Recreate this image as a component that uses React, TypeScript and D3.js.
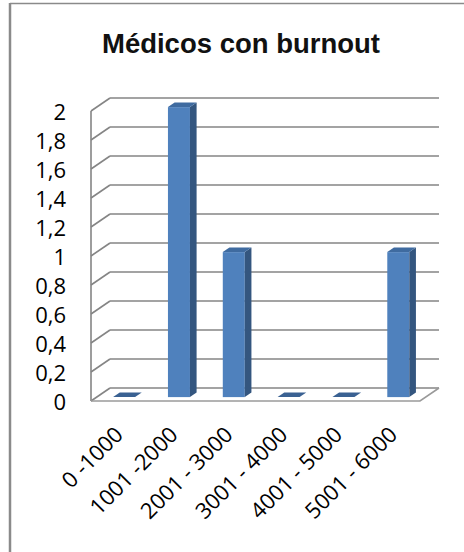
import React from 'react';
import * as d3 from 'd3';

const categories = ['0 -1000', '1001 -2000', '2001 - 3000', '3001 - 4000', '4001 - 5000', '5001 - 6000'];
const values = [0, 2, 1, 0, 0, 1];
const yTicks = [0, 0.2, 0.4, 0.6, 0.8, 1, 1.2, 1.4, 1.6, 1.8, 2];

const W = 464;
const H = 552;
// 3d depth offset of the chart box
const DX = 19;
const DY = -13;

const App = () => {
  const x = d3.scaleBand().domain(categories).range([91, 420]);
  const y = d3.scaleLinear().domain([0, 2]).range([401, 111]);
  const fmt = (v: number) => String(+v.toFixed(1)).replace('.', ',');

  const grid = '#858585';
  const f = 0.3; // bar front depth
  const d = 0.35; // bar thickness (depth)
  const bw = 22;
  const ddx = DX * d;
  const ddy = DY * d;

  const pts = (p: number[][]) => p.map((q) => q.join(',')).join(' ');

  return (
    <svg width={W} height={H} style={{ position: 'absolute', left: 0, top: 0, background: '#fff' }}>
      {/* frame */}
      <line x1={10} y1={3.5} x2={W} y2={3.5} stroke="#8a8a8a" strokeWidth={1.5} />
      <line x1={10} y1={3} x2={10} y2={H} stroke="#8a8a8a" strokeWidth={2.5} />

      <text x={241} y={53} textAnchor="middle" fontFamily="'Liberation Sans', Arial, sans-serif"
        fontWeight="bold" fontSize={27.5} fill="#111">Médicos con burnout</text>

      {/* walls */}
      {yTicks.map((t) => (
        <g key={t} stroke={grid} strokeWidth={1.6} fill="none">
          <line x1={91 + DX} y1={y(t) + DY} x2={420 + DX} y2={y(t) + DY} />
          <line x1={91} y1={y(t)} x2={91 + DX} y2={y(t) + DY} />
        </g>
      ))}
      <line x1={91} y1={y(0)} x2={91} y2={y(2)} stroke={grid} strokeWidth={1.6} />
      {/* floor */}
      <polyline points={pts([[91, y(0)], [420, y(0)], [420 + DX, y(0) + DY]])}
        fill="none" stroke="#9a9a9a" strokeWidth={1.6} />

      {/* bars */}
      {categories.map((c, i) => {
        const x0 = (x(c) as number) + (x.bandwidth() - bw) / 2 + DX * f;
        const x1 = x0 + bw;
        const yb = y(0) + DY * f;
        const yt = y(values[i]) + DY * f;
        const top = pts([[x0, yt], [x1, yt], [x1 + ddx, yt + ddy], [x0 + ddx, yt + ddy]]);
        if (values[i] === 0) {
          return <polygon key={c} points={top} fill="#3a6192" />;
        }
        return (
          <g key={c}>
            <rect x={x0} y={yt} width={bw} height={yb - yt} fill="#4f81bd" />
            <polygon points={pts([[x1, yb], [x1 + ddx, yb + ddy], [x1 + ddx, yt + ddy], [x1, yt]])} fill="#34567f" />
            <polygon points={top} fill="#3f6ba0" />
          </g>
        );
      })}

      {/* y tick labels */}
      {yTicks.map((t) => (
        <text key={t} x={66} y={y(t) + 3} textAnchor="end" dominantBaseline="middle"
          fontFamily="'Open Sans', sans-serif" fontSize={22} fill="#000">{fmt(t)}</text>
      ))}

      {/* x labels */}
      {categories.map((c) => {
        const cx = (x(c) as number) + x.bandwidth() / 2 + 6;
        const cy = 436;
        return (
          <text key={c} x={cx} y={cy} textAnchor="end" transform={`rotate(-45,${cx},${cy})`}
            fontFamily="'Open Sans', sans-serif" fontSize={22} fill="#000">{c}</text>
        );
      })}
    </svg>
  );
};

export default App;
